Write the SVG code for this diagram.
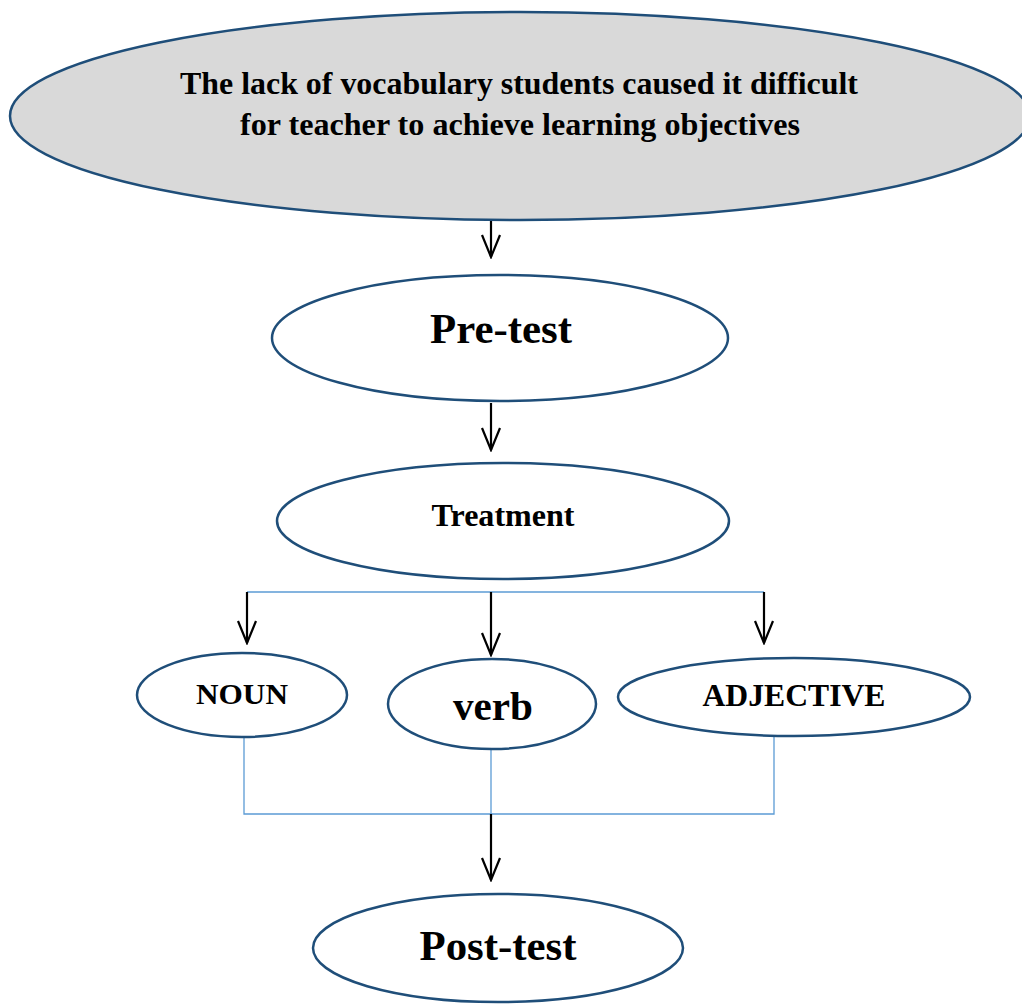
<svg xmlns="http://www.w3.org/2000/svg" width="1022" height="1008" viewBox="0 0 1022 1008">
<defs>
<marker id="arr" viewBox="0 0 26 22" refX="24" refY="11" markerWidth="26" markerHeight="22" markerUnits="userSpaceOnUse" orient="auto">
<path d="M2,2 L24,11 L2,20" fill="none" stroke="#000" stroke-width="2.2"/>
</marker>
<style>
.node{fill:#fff;stroke:#1f4e79;stroke-width:2.5}
.t{font-family:"Liberation Serif","Times New Roman",serif;font-weight:bold;fill:#000;text-anchor:middle}
.ar{stroke:#000;stroke-width:2.2;fill:none}
.bl{stroke:#5b9bd5;stroke-width:1.3;fill:none}
</style>
</defs>
<rect width="1022" height="1008" fill="#fff"/>
<g id="connectors">
<line class="ar" x1="491" y1="213" x2="491" y2="257" marker-end="url(#arr)"/>
<line class="ar" x1="491" y1="403" x2="491" y2="450" marker-end="url(#arr)"/>
<polyline class="bl" points="247,592 764,592"/>
<line class="ar" x1="247" y1="592" x2="247" y2="643" marker-end="url(#arr)"/>
<line class="ar" x1="491" y1="592" x2="491" y2="655" marker-end="url(#arr)"/>
<line class="ar" x1="764" y1="592" x2="764" y2="643" marker-end="url(#arr)"/>
<polyline class="bl" points="244,737 244,814 774,814 774,736"/>
<line class="bl" x1="491" y1="749" x2="491" y2="814"/>
<line class="ar" x1="491" y1="814" x2="491" y2="880" marker-end="url(#arr)"/>
</g>
<g id="problem">
<ellipse cx="520" cy="116" rx="510" ry="104" fill="#d9d9d9" stroke="#1f4e79" stroke-width="2.5"/>
<text class="t" x="519" y="94" font-size="31" textLength="678" lengthAdjust="spacingAndGlyphs">The lack of vocabulary students caused it difficult</text>
<text class="t" x="520" y="135" font-size="31" textLength="560" lengthAdjust="spacingAndGlyphs">for teacher to achieve learning objectives</text>
</g>
<g id="pretest">
<ellipse class="node" cx="500" cy="338" rx="228" ry="63"/>
<text class="t" x="501" y="343" font-size="42" textLength="142" lengthAdjust="spacingAndGlyphs">Pre-test</text>
</g>
<g id="treatment">
<ellipse class="node" cx="503" cy="521" rx="226" ry="58"/>
<text class="t" x="503" y="526" font-size="31" textLength="143" lengthAdjust="spacingAndGlyphs">Treatment</text>
</g>
<g id="noun">
<ellipse class="node" cx="242" cy="695" rx="105" ry="42"/>
<text class="t" x="242" y="704" font-size="30" textLength="92" lengthAdjust="spacingAndGlyphs">NOUN</text>
</g>
<g id="verb">
<ellipse class="node" cx="492" cy="704" rx="104" ry="45"/>
<text class="t" x="493" y="720" font-size="41" textLength="80" lengthAdjust="spacingAndGlyphs">verb</text>
</g>
<g id="adjective">
<ellipse class="node" cx="794" cy="697" rx="176" ry="39"/>
<text class="t" x="794" y="706" font-size="31" textLength="183" lengthAdjust="spacingAndGlyphs">ADJECTIVE</text>
</g>
<g id="posttest">
<ellipse class="node" cx="498" cy="948" rx="185" ry="54"/>
<text class="t" x="498" y="960" font-size="42" textLength="157" lengthAdjust="spacingAndGlyphs">Post-test</text>
</g>
</svg>
